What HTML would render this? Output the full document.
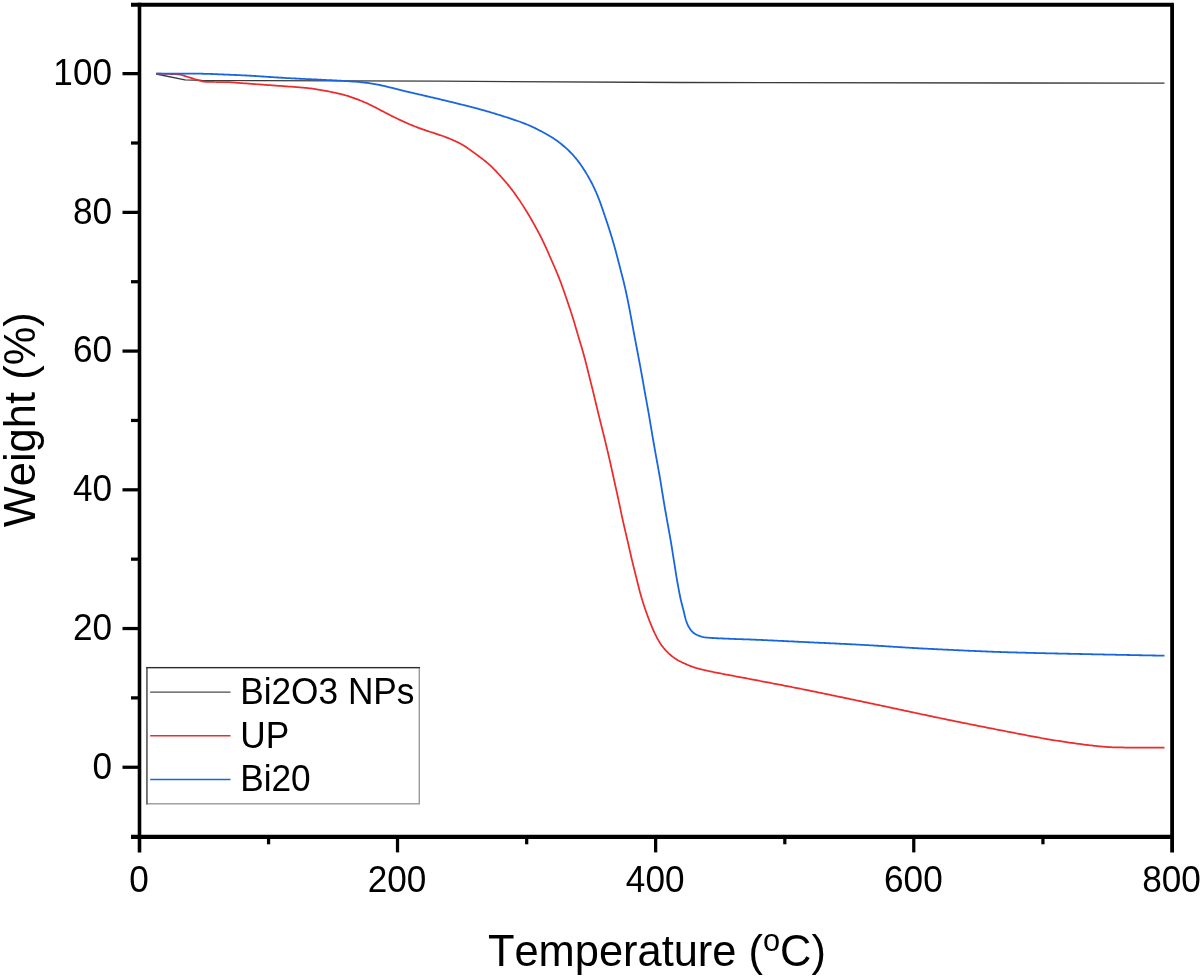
<!DOCTYPE html>
<html><head><meta charset="utf-8"><title>TGA</title>
<style>
html,body{margin:0;padding:0;background:#fff;}
svg{display:block}
text{font-family:"Liberation Sans",Arial,sans-serif;fill:#000;font-kerning:none}
</style></head><body>
<svg width="1203" height="978" viewBox="0 0 1203 978">
<rect width="1203" height="978" fill="#fff"/>
<path d="M156.2,74.0 L184.9,79.9 L202.0,80.4 L440.0,81.2 L680.0,82.5 L1164.5,83.2" fill="none" stroke="#3a3a3a" stroke-width="1.3" stroke-linejoin="round"/>
<path d="M156.20,73.70 L157.70,73.70 L159.20,73.71 L160.70,73.73 L162.20,73.75 L163.70,73.78 L165.20,73.81 L166.70,73.85 L168.20,73.90 L169.70,73.95 L171.20,74.01 L172.69,74.07 L174.19,74.14 L175.69,74.21 L177.19,74.29 L178.68,74.42 L180.16,74.66 L181.63,75.00 L183.07,75.39 L184.50,75.84 L185.93,76.30 L187.35,76.77 L188.78,77.23 L190.22,77.66 L191.65,78.10 L193.08,78.57 L194.50,79.04 L195.93,79.49 L197.37,79.91 L198.81,80.35 L200.24,80.81 L201.68,81.22 L203.14,81.54 L204.63,81.71 L206.13,81.78 L207.63,81.84 L209.13,81.89 L210.63,81.92 L212.13,81.96 L213.63,81.98 L215.13,82.00 L216.63,82.02 L218.13,82.03 L219.63,82.04 L221.13,82.05 L222.63,82.06 L224.13,82.07 L225.63,82.08 L227.13,82.10 L228.63,82.15 L230.12,82.23 L231.62,82.34 L233.12,82.46 L234.61,82.58 L236.11,82.70 L237.60,82.82 L239.10,82.94 L240.59,83.05 L242.09,83.15 L243.58,83.26 L245.08,83.37 L246.58,83.48 L248.07,83.59 L249.57,83.70 L251.06,83.81 L252.56,83.92 L254.06,84.03 L255.55,84.14 L257.05,84.25 L258.54,84.35 L260.04,84.46 L261.54,84.57 L263.03,84.68 L264.53,84.79 L266.02,84.90 L267.52,85.01 L269.02,85.11 L270.51,85.22 L272.01,85.33 L273.50,85.44 L275.00,85.55 L276.50,85.66 L277.99,85.77 L279.49,85.88 L280.99,85.98 L282.48,86.09 L283.98,86.20 L285.47,86.30 L286.97,86.41 L288.47,86.51 L289.96,86.61 L291.46,86.72 L292.96,86.82 L294.45,86.93 L295.95,87.04 L297.44,87.16 L298.94,87.27 L300.43,87.40 L301.93,87.53 L303.42,87.67 L304.91,87.82 L306.40,87.97 L307.89,88.14 L309.38,88.31 L310.87,88.49 L312.36,88.69 L313.84,88.89 L315.33,89.11 L316.81,89.34 L318.29,89.57 L319.77,89.82 L321.25,90.08 L322.72,90.35 L324.20,90.62 L325.67,90.90 L327.14,91.18 L328.61,91.47 L330.09,91.76 L331.56,92.06 L333.03,92.35 L334.49,92.66 L335.96,92.97 L337.42,93.29 L338.89,93.62 L340.34,93.97 L341.80,94.33 L343.25,94.71 L344.69,95.11 L346.13,95.52 L347.57,95.95 L349.00,96.39 L350.43,96.85 L351.85,97.33 L353.26,97.82 L354.68,98.32 L356.09,98.83 L357.49,99.36 L358.89,99.89 L360.28,100.44 L361.67,101.01 L363.05,101.58 L364.43,102.18 L365.80,102.78 L367.17,103.40 L368.52,104.04 L369.87,104.69 L371.22,105.35 L372.56,106.02 L373.89,106.71 L375.23,107.39 L376.56,108.08 L377.88,108.78 L379.21,109.48 L380.54,110.17 L381.87,110.87 L383.20,111.57 L384.53,112.26 L385.86,112.95 L387.19,113.64 L388.53,114.33 L389.86,115.01 L391.20,115.68 L392.54,116.36 L393.89,117.02 L395.23,117.68 L396.58,118.33 L397.93,118.98 L399.29,119.62 L400.65,120.26 L402.01,120.89 L403.37,121.51 L404.74,122.13 L406.11,122.73 L407.49,123.34 L408.86,123.93 L410.24,124.52 L411.63,125.10 L413.01,125.67 L414.40,126.23 L415.80,126.77 L417.20,127.31 L418.60,127.84 L420.01,128.36 L421.42,128.87 L422.83,129.37 L424.25,129.86 L425.67,130.35 L427.09,130.83 L428.51,131.30 L429.94,131.77 L431.36,132.24 L432.79,132.70 L434.21,133.16 L435.64,133.63 L437.07,134.10 L438.49,134.57 L439.91,135.05 L441.33,135.54 L442.74,136.04 L444.15,136.55 L445.56,137.07 L446.96,137.60 L448.35,138.15 L449.74,138.71 L451.13,139.28 L452.50,139.87 L453.87,140.48 L455.24,141.10 L456.59,141.73 L457.94,142.39 L459.27,143.07 L460.59,143.77 L461.90,144.50 L463.19,145.25 L464.46,146.03 L465.72,146.83 L466.97,147.65 L468.20,148.50 L469.43,149.36 L470.65,150.23 L471.86,151.11 L473.07,151.99 L474.28,152.87 L475.49,153.76 L476.70,154.65 L477.91,155.54 L479.11,156.43 L480.31,157.33 L481.50,158.24 L482.69,159.15 L483.87,160.08 L485.04,161.02 L486.19,161.97 L487.34,162.93 L488.47,163.92 L489.59,164.91 L490.69,165.93 L491.77,166.96 L492.85,168.00 L493.90,169.06 L494.95,170.13 L495.99,171.22 L497.02,172.31 L498.04,173.41 L499.05,174.51 L500.06,175.62 L501.07,176.73 L502.07,177.85 L503.07,178.97 L504.06,180.10 L505.04,181.23 L506.01,182.37 L506.98,183.51 L507.94,184.67 L508.88,185.83 L509.82,187.00 L510.74,188.18 L511.66,189.37 L512.56,190.56 L513.45,191.77 L514.34,192.98 L515.21,194.20 L516.08,195.42 L516.94,196.65 L517.79,197.88 L518.64,199.12 L519.48,200.36 L520.31,201.61 L521.14,202.86 L521.96,204.11 L522.78,205.37 L523.59,206.63 L524.40,207.90 L525.20,209.17 L525.99,210.44 L526.78,211.72 L527.56,213.00 L528.33,214.28 L529.10,215.57 L529.86,216.86 L530.62,218.15 L531.37,219.45 L532.11,220.76 L532.85,222.06 L533.59,223.37 L534.31,224.68 L535.04,225.99 L535.76,227.31 L536.47,228.63 L537.18,229.95 L537.89,231.27 L538.59,232.60 L539.29,233.92 L539.99,235.25 L540.67,236.59 L541.35,237.92 L542.02,239.26 L542.68,240.61 L543.34,241.96 L543.98,243.31 L544.62,244.67 L545.25,246.03 L545.87,247.40 L546.48,248.77 L547.09,250.14 L547.70,251.51 L548.30,252.88 L548.91,254.25 L549.51,255.63 L550.11,257.00 L550.71,258.38 L551.31,259.75 L551.91,261.13 L552.51,262.50 L553.11,263.88 L553.71,265.25 L554.31,266.63 L554.90,268.00 L555.50,269.38 L556.09,270.76 L556.67,272.14 L557.25,273.52 L557.82,274.91 L558.39,276.30 L558.95,277.69 L559.50,279.09 L560.04,280.48 L560.57,281.89 L561.10,283.29 L561.62,284.70 L562.13,286.11 L562.63,287.52 L563.13,288.93 L563.63,290.35 L564.12,291.77 L564.61,293.18 L565.09,294.60 L565.58,296.02 L566.07,297.44 L566.55,298.86 L567.04,300.28 L567.52,301.70 L568.00,303.12 L568.49,304.54 L568.97,305.96 L569.45,307.38 L569.93,308.80 L570.40,310.23 L570.87,311.65 L571.34,313.08 L571.80,314.50 L572.25,315.93 L572.70,317.36 L573.15,318.79 L573.59,320.23 L574.02,321.66 L574.45,323.10 L574.88,324.54 L575.30,325.98 L575.72,327.42 L576.14,328.86 L576.56,330.30 L576.98,331.74 L577.40,333.18 L577.82,334.62 L578.25,336.06 L578.68,337.49 L579.11,338.93 L579.54,340.37 L579.97,341.80 L580.40,343.24 L580.84,344.68 L581.27,346.11 L581.70,347.55 L582.12,348.99 L582.54,350.43 L582.96,351.87 L583.36,353.31 L583.77,354.76 L584.16,356.20 L584.55,357.65 L584.94,359.10 L585.32,360.55 L585.69,362.00 L586.06,363.46 L586.43,364.91 L586.79,366.37 L587.15,367.82 L587.51,369.28 L587.88,370.73 L588.24,372.19 L588.60,373.65 L588.96,375.10 L589.32,376.56 L589.69,378.01 L590.05,379.47 L590.42,380.92 L590.78,382.38 L591.14,383.83 L591.51,385.29 L591.87,386.74 L592.23,388.20 L592.59,389.66 L592.95,391.11 L593.31,392.57 L593.67,394.03 L594.02,395.48 L594.38,396.94 L594.73,398.40 L595.08,399.86 L595.43,401.32 L595.77,402.78 L596.12,404.23 L596.47,405.69 L596.82,407.15 L597.17,408.61 L597.52,410.07 L597.87,411.53 L598.22,412.99 L598.58,414.44 L598.94,415.90 L599.29,417.36 L599.65,418.81 L600.02,420.27 L600.38,421.72 L600.74,423.18 L601.11,424.63 L601.47,426.09 L601.83,427.54 L602.20,429.00 L602.56,430.46 L602.92,431.91 L603.28,433.37 L603.64,434.82 L604.00,436.28 L604.36,437.74 L604.72,439.19 L605.07,440.65 L605.43,442.11 L605.78,443.56 L606.14,445.02 L606.49,446.48 L606.84,447.94 L607.19,449.40 L607.53,450.86 L607.88,452.32 L608.22,453.78 L608.56,455.24 L608.89,456.70 L609.23,458.16 L609.56,459.63 L609.89,461.09 L610.22,462.55 L610.55,464.02 L610.88,465.48 L611.20,466.94 L611.53,468.41 L611.85,469.87 L612.17,471.34 L612.50,472.80 L612.82,474.27 L613.15,475.73 L613.47,477.20 L613.80,478.66 L614.12,480.12 L614.45,481.59 L614.77,483.05 L615.10,484.52 L615.42,485.98 L615.75,487.45 L616.07,488.91 L616.40,490.38 L616.72,491.84 L617.04,493.31 L617.36,494.77 L617.68,496.24 L618.00,497.70 L618.32,499.17 L618.63,500.63 L618.94,502.10 L619.26,503.57 L619.56,505.04 L619.87,506.50 L620.18,507.97 L620.49,509.44 L620.79,510.91 L621.10,512.38 L621.41,513.85 L621.72,515.31 L622.04,516.78 L622.35,518.24 L622.68,519.71 L623.00,521.17 L623.33,522.64 L623.66,524.10 L624.00,525.56 L624.34,527.02 L624.68,528.48 L625.02,529.94 L625.36,531.40 L625.71,532.86 L626.05,534.32 L626.40,535.78 L626.74,537.25 L627.08,538.71 L627.42,540.17 L627.75,541.63 L628.09,543.09 L628.42,544.55 L628.75,546.02 L629.08,547.48 L629.41,548.94 L629.74,550.41 L630.07,551.87 L630.41,553.33 L630.74,554.79 L631.08,556.26 L631.42,557.72 L631.76,559.18 L632.11,560.64 L632.46,562.09 L632.81,563.55 L633.17,565.01 L633.53,566.47 L633.89,567.92 L634.25,569.38 L634.61,570.83 L634.98,572.29 L635.34,573.74 L635.71,575.20 L636.07,576.65 L636.43,578.11 L636.80,579.56 L637.16,581.02 L637.52,582.48 L637.88,583.93 L638.24,585.39 L638.61,586.84 L638.98,588.29 L639.35,589.75 L639.73,591.20 L640.12,592.65 L640.51,594.09 L640.92,595.54 L641.33,596.98 L641.75,598.42 L642.19,599.85 L642.63,601.29 L643.08,602.72 L643.53,604.14 L644.00,605.57 L644.47,606.99 L644.95,608.41 L645.44,609.83 L645.93,611.25 L646.43,612.66 L646.93,614.08 L647.44,615.49 L647.96,616.89 L648.49,618.30 L649.02,619.70 L649.56,621.10 L650.11,622.50 L650.67,623.89 L651.23,625.27 L651.81,626.66 L652.40,628.04 L653.00,629.41 L653.61,630.78 L654.24,632.14 L654.87,633.50 L655.53,634.85 L656.20,636.19 L656.88,637.52 L657.59,638.83 L658.32,640.14 L659.08,641.43 L659.86,642.70 L660.68,643.95 L661.52,645.17 L662.40,646.37 L663.32,647.55 L664.27,648.70 L665.25,649.82 L666.26,650.92 L667.30,651.99 L668.36,653.03 L669.46,654.04 L670.58,655.03 L671.72,655.98 L672.90,656.89 L674.10,657.77 L675.32,658.61 L676.58,659.41 L677.86,660.17 L679.16,660.90 L680.48,661.60 L681.81,662.27 L683.16,662.91 L684.52,663.54 L685.89,664.14 L687.27,664.73 L688.65,665.30 L690.04,665.85 L691.44,666.37 L692.85,666.88 L694.27,667.35 L695.70,667.81 L697.13,668.24 L698.57,668.65 L700.02,669.03 L701.47,669.40 L702.92,669.76 L704.38,670.10 L705.85,670.43 L707.31,670.75 L708.78,671.06 L710.24,671.38 L711.71,671.68 L713.18,671.99 L714.65,672.29 L716.12,672.58 L717.59,672.88 L719.06,673.17 L720.53,673.46 L722.01,673.75 L723.48,674.03 L724.95,674.32 L726.43,674.60 L727.90,674.88 L729.37,675.15 L730.85,675.43 L732.32,675.71 L733.80,675.98 L735.27,676.26 L736.74,676.54 L738.22,676.81 L739.69,677.09 L741.17,677.36 L742.64,677.64 L744.12,677.92 L745.59,678.20 L747.06,678.48 L748.54,678.76 L750.01,679.04 L751.48,679.32 L752.96,679.60 L754.43,679.88 L755.90,680.16 L757.38,680.45 L758.85,680.73 L760.32,681.01 L761.80,681.29 L763.27,681.57 L764.74,681.85 L766.22,682.13 L767.69,682.41 L769.17,682.69 L770.64,682.97 L772.11,683.25 L773.59,683.54 L775.06,683.82 L776.53,684.10 L778.01,684.38 L779.48,684.67 L780.95,684.95 L782.42,685.23 L783.90,685.52 L785.37,685.80 L786.84,686.09 L788.31,686.38 L789.79,686.66 L791.26,686.95 L792.73,687.24 L794.20,687.53 L795.67,687.82 L797.14,688.12 L798.62,688.41 L800.09,688.70 L801.56,689.00 L803.03,689.29 L804.50,689.59 L805.97,689.89 L807.44,690.18 L808.91,690.48 L810.38,690.78 L811.85,691.08 L813.32,691.38 L814.79,691.68 L816.26,691.98 L817.73,692.29 L819.20,692.59 L820.66,692.89 L822.13,693.20 L823.60,693.50 L825.07,693.80 L826.54,694.11 L828.01,694.41 L829.48,694.72 L830.95,695.03 L832.41,695.33 L833.88,695.64 L835.35,695.95 L836.82,696.25 L838.29,696.56 L839.76,696.87 L841.22,697.17 L842.69,697.48 L844.16,697.79 L845.63,698.10 L847.10,698.40 L848.56,698.71 L850.03,699.02 L851.50,699.33 L852.97,699.63 L854.44,699.94 L855.90,700.25 L857.37,700.56 L858.84,700.86 L860.31,701.17 L861.78,701.48 L863.24,701.79 L864.71,702.10 L866.18,702.41 L867.65,702.71 L869.12,703.02 L870.58,703.33 L872.05,703.64 L873.52,703.96 L874.99,704.27 L876.45,704.58 L877.92,704.89 L879.39,705.20 L880.85,705.51 L882.32,705.83 L883.79,706.14 L885.26,706.45 L886.72,706.77 L888.19,707.08 L889.66,707.39 L891.12,707.71 L892.59,708.02 L894.06,708.33 L895.52,708.65 L896.99,708.96 L898.46,709.28 L899.92,709.59 L901.39,709.90 L902.86,710.22 L904.32,710.53 L905.79,710.85 L907.26,711.16 L908.72,711.47 L910.19,711.79 L911.66,712.10 L913.13,712.41 L914.59,712.73 L916.06,713.04 L917.53,713.35 L918.99,713.66 L920.46,713.98 L921.93,714.29 L923.40,714.60 L924.86,714.91 L926.33,715.22 L927.80,715.53 L929.27,715.84 L930.73,716.15 L932.20,716.46 L933.67,716.77 L935.14,717.08 L936.61,717.38 L938.07,717.69 L939.54,718.00 L941.01,718.30 L942.48,718.61 L943.95,718.91 L945.42,719.22 L946.89,719.52 L948.35,719.82 L949.82,720.12 L951.29,720.43 L952.76,720.73 L954.23,721.03 L955.70,721.33 L957.17,721.63 L958.64,721.92 L960.11,722.22 L961.58,722.52 L963.05,722.82 L964.52,723.12 L965.99,723.41 L967.46,723.71 L968.93,724.00 L970.40,724.30 L971.88,724.59 L973.35,724.89 L974.82,725.18 L976.29,725.48 L977.76,725.77 L979.23,726.06 L980.70,726.35 L982.17,726.65 L983.64,726.94 L985.12,727.23 L986.59,727.52 L988.06,727.81 L989.53,728.10 L991.00,728.39 L992.48,728.68 L993.95,728.96 L995.42,729.25 L996.89,729.54 L998.36,729.83 L999.84,730.11 L1001.31,730.40 L1002.78,730.68 L1004.25,730.97 L1005.73,731.25 L1007.20,731.54 L1008.67,731.82 L1010.15,732.11 L1011.62,732.39 L1013.09,732.68 L1014.56,732.96 L1016.04,733.25 L1017.51,733.53 L1018.98,733.82 L1020.45,734.10 L1021.93,734.38 L1023.40,734.67 L1024.87,734.95 L1026.35,735.24 L1027.82,735.52 L1029.29,735.80 L1030.77,736.08 L1032.24,736.36 L1033.71,736.64 L1035.19,736.91 L1036.66,737.18 L1038.14,737.46 L1039.61,737.72 L1041.09,737.99 L1042.57,738.26 L1044.04,738.52 L1045.52,738.78 L1047.00,739.03 L1048.48,739.29 L1049.96,739.54 L1051.44,739.78 L1052.92,740.03 L1054.40,740.27 L1055.88,740.51 L1057.36,740.75 L1058.84,740.98 L1060.32,741.21 L1061.80,741.44 L1063.29,741.67 L1064.77,741.89 L1066.25,742.12 L1067.74,742.33 L1069.22,742.55 L1070.71,742.76 L1072.19,742.98 L1073.68,743.18 L1075.16,743.39 L1076.65,743.59 L1078.13,743.79 L1079.62,743.99 L1081.11,744.19 L1082.60,744.38 L1084.08,744.57 L1085.57,744.76 L1087.06,744.94 L1088.55,745.12 L1090.04,745.30 L1091.53,745.47 L1093.02,745.64 L1094.51,745.81 L1096.00,745.97 L1097.49,746.13 L1098.98,746.28 L1100.48,746.43 L1101.97,746.57 L1103.46,746.71 L1104.96,746.84 L1106.45,746.96 L1107.95,747.07 L1109.44,747.16 L1110.94,747.24 L1112.44,747.31 L1113.93,747.37 L1115.43,747.41 L1116.93,747.44 L1118.43,747.46 L1119.93,747.48 L1121.43,747.49 L1122.93,747.49 L1124.43,747.50 L1125.93,747.50 L1127.43,747.50 L1128.93,747.50 L1130.43,747.50 L1131.93,747.50 L1133.43,747.50 L1134.93,747.50 L1136.43,747.50 L1137.93,747.50 L1139.43,747.50 L1140.93,747.50 L1142.43,747.50 L1143.93,747.50 L1145.43,747.50 L1146.93,747.50 L1148.43,747.50 L1149.93,747.50 L1151.43,747.50 L1152.93,747.50 L1154.43,747.50 L1155.93,747.50 L1157.43,747.50 L1158.93,747.50 L1160.43,747.50 L1161.93,747.50 L1163.43,747.50 L1164.50,747.50" fill="none" stroke="#ee2b2b" stroke-width="1.75" stroke-linejoin="round"/>
<path d="M156.20,73.60 L157.70,73.60 L159.20,73.60 L160.70,73.60 L162.20,73.60 L163.70,73.60 L165.20,73.60 L166.70,73.60 L168.20,73.60 L169.70,73.60 L171.20,73.60 L172.70,73.60 L174.20,73.60 L175.70,73.60 L177.20,73.60 L178.70,73.60 L180.20,73.60 L181.70,73.60 L183.20,73.60 L184.70,73.60 L186.20,73.60 L187.70,73.60 L189.20,73.60 L190.70,73.60 L192.20,73.60 L193.70,73.61 L195.20,73.62 L196.70,73.64 L198.20,73.66 L199.70,73.69 L201.20,73.72 L202.70,73.75 L204.20,73.79 L205.70,73.83 L207.20,73.87 L208.70,73.91 L210.20,73.96 L211.69,74.01 L213.19,74.07 L214.69,74.12 L216.19,74.18 L217.69,74.24 L219.19,74.30 L220.69,74.36 L222.19,74.43 L223.69,74.49 L225.18,74.56 L226.68,74.62 L228.18,74.69 L229.68,74.76 L231.18,74.82 L232.68,74.89 L234.18,74.96 L235.67,75.02 L237.17,75.09 L238.67,75.15 L240.17,75.22 L241.67,75.28 L243.17,75.35 L244.66,75.42 L246.16,75.50 L247.66,75.58 L249.16,75.66 L250.66,75.74 L252.15,75.83 L253.65,75.92 L255.15,76.01 L256.65,76.10 L258.14,76.20 L259.64,76.29 L261.14,76.39 L262.63,76.49 L264.13,76.58 L265.63,76.68 L267.12,76.78 L268.62,76.88 L270.12,76.98 L271.61,77.08 L273.11,77.18 L274.61,77.28 L276.10,77.38 L277.60,77.48 L279.10,77.57 L280.59,77.67 L282.09,77.76 L283.59,77.85 L285.09,77.94 L286.58,78.03 L288.08,78.12 L289.58,78.20 L291.08,78.28 L292.57,78.36 L294.07,78.44 L295.57,78.51 L297.07,78.59 L298.57,78.67 L300.06,78.74 L301.56,78.81 L303.06,78.88 L304.56,78.96 L306.06,79.03 L307.56,79.10 L309.05,79.17 L310.55,79.24 L312.05,79.31 L313.55,79.38 L315.05,79.45 L316.55,79.52 L318.04,79.59 L319.54,79.66 L321.04,79.74 L322.54,79.81 L324.04,79.89 L325.54,79.96 L327.03,80.04 L328.53,80.11 L330.03,80.19 L331.53,80.27 L333.03,80.35 L334.52,80.43 L336.02,80.51 L337.52,80.60 L339.02,80.68 L340.51,80.76 L342.01,80.85 L343.51,80.94 L345.01,81.03 L346.50,81.12 L348.00,81.21 L349.50,81.30 L350.99,81.40 L352.49,81.50 L353.99,81.61 L355.48,81.72 L356.98,81.84 L358.47,81.96 L359.96,82.10 L361.46,82.24 L362.95,82.40 L364.44,82.57 L365.92,82.75 L367.41,82.94 L368.89,83.15 L370.38,83.37 L371.86,83.60 L373.34,83.85 L374.81,84.11 L376.29,84.38 L377.76,84.66 L379.23,84.95 L380.70,85.25 L382.16,85.57 L383.63,85.89 L385.09,86.22 L386.55,86.56 L388.01,86.90 L389.47,87.26 L390.92,87.61 L392.38,87.98 L393.83,88.34 L395.29,88.71 L396.74,89.08 L398.19,89.45 L399.65,89.82 L401.10,90.18 L402.56,90.54 L404.02,90.90 L405.47,91.26 L406.93,91.61 L408.39,91.96 L409.85,92.30 L411.31,92.64 L412.77,92.98 L414.23,93.32 L415.69,93.66 L417.16,93.99 L418.62,94.32 L420.08,94.66 L421.54,94.99 L423.01,95.33 L424.47,95.66 L425.93,96.00 L427.39,96.34 L428.85,96.67 L430.31,97.01 L431.77,97.36 L433.23,97.70 L434.69,98.04 L436.15,98.39 L437.61,98.73 L439.07,99.08 L440.53,99.43 L441.99,99.78 L443.45,100.13 L444.91,100.48 L446.37,100.83 L447.82,101.18 L449.28,101.53 L450.74,101.89 L452.20,102.24 L453.65,102.60 L455.11,102.96 L456.57,103.31 L458.02,103.67 L459.48,104.03 L460.94,104.39 L462.39,104.75 L463.85,105.11 L465.30,105.47 L466.76,105.84 L468.21,106.21 L469.67,106.58 L471.12,106.95 L472.57,107.32 L474.02,107.70 L475.47,108.09 L476.92,108.47 L478.37,108.86 L479.82,109.26 L481.26,109.66 L482.71,110.06 L484.15,110.47 L485.60,110.88 L487.04,111.29 L488.48,111.71 L489.92,112.13 L491.35,112.56 L492.79,112.99 L494.23,113.42 L495.66,113.86 L497.10,114.30 L498.53,114.74 L499.96,115.19 L501.39,115.64 L502.82,116.09 L504.25,116.54 L505.68,117.00 L507.11,117.46 L508.54,117.92 L509.96,118.38 L511.39,118.85 L512.81,119.32 L514.23,119.80 L515.65,120.28 L517.07,120.76 L518.49,121.26 L519.90,121.76 L521.31,122.28 L522.71,122.80 L524.11,123.34 L525.50,123.89 L526.89,124.46 L528.27,125.04 L529.65,125.63 L531.01,126.24 L532.38,126.87 L533.73,127.50 L535.08,128.16 L536.42,128.82 L537.76,129.49 L539.10,130.18 L540.43,130.87 L541.76,131.56 L543.08,132.27 L544.40,132.98 L545.71,133.70 L547.02,134.43 L548.32,135.18 L549.61,135.93 L550.89,136.70 L552.17,137.49 L553.42,138.30 L554.67,139.13 L555.90,139.97 L557.12,140.84 L558.32,141.73 L559.51,142.64 L560.68,143.57 L561.84,144.51 L562.99,145.47 L564.13,146.44 L565.25,147.43 L566.37,148.43 L567.47,149.44 L568.56,150.47 L569.63,151.51 L570.69,152.57 L571.72,153.65 L572.75,154.74 L573.75,155.85 L574.73,156.97 L575.69,158.12 L576.64,159.28 L577.56,160.45 L578.47,161.64 L579.36,162.84 L580.23,164.06 L581.09,165.29 L581.94,166.52 L582.77,167.77 L583.59,169.02 L584.40,170.29 L585.19,171.56 L585.98,172.83 L586.76,174.11 L587.52,175.40 L588.27,176.70 L589.02,178.00 L589.74,179.31 L590.46,180.63 L591.17,181.95 L591.86,183.28 L592.54,184.61 L593.20,185.96 L593.85,187.31 L594.49,188.66 L595.12,190.02 L595.73,191.39 L596.33,192.76 L596.92,194.14 L597.49,195.52 L598.06,196.91 L598.61,198.31 L599.14,199.71 L599.67,201.11 L600.19,202.52 L600.70,203.93 L601.21,205.34 L601.71,206.75 L602.20,208.17 L602.69,209.58 L603.18,211.00 L603.67,212.42 L604.15,213.84 L604.63,215.26 L605.11,216.68 L605.59,218.11 L606.06,219.53 L606.54,220.95 L607.01,222.38 L607.48,223.80 L607.94,225.23 L608.41,226.65 L608.87,228.08 L609.33,229.51 L609.79,230.94 L610.24,232.37 L610.68,233.80 L611.13,235.23 L611.57,236.66 L612.00,238.10 L612.43,239.54 L612.85,240.98 L613.27,242.42 L613.69,243.86 L614.10,245.30 L614.51,246.74 L614.91,248.19 L615.31,249.63 L615.71,251.08 L616.10,252.53 L616.48,253.98 L616.87,255.43 L617.25,256.88 L617.63,258.33 L618.01,259.78 L618.38,261.23 L618.76,262.69 L619.13,264.14 L619.50,265.59 L619.87,267.04 L620.25,268.50 L620.62,269.95 L621.00,271.40 L621.37,272.85 L621.75,274.31 L622.12,275.76 L622.50,277.21 L622.87,278.66 L623.23,280.12 L623.59,281.57 L623.95,283.03 L624.30,284.49 L624.65,285.95 L624.99,287.41 L625.32,288.87 L625.65,290.33 L625.97,291.80 L626.29,293.26 L626.61,294.73 L626.92,296.20 L627.22,297.67 L627.52,299.14 L627.82,300.61 L628.12,302.08 L628.41,303.55 L628.70,305.02 L628.99,306.49 L629.28,307.96 L629.56,309.44 L629.84,310.91 L630.11,312.38 L630.39,313.86 L630.66,315.33 L630.94,316.81 L631.21,318.28 L631.48,319.76 L631.75,321.23 L632.02,322.71 L632.29,324.19 L632.56,325.66 L632.83,327.14 L633.10,328.61 L633.38,330.09 L633.65,331.56 L633.93,333.03 L634.21,334.51 L634.49,335.98 L634.76,337.46 L635.04,338.93 L635.32,340.40 L635.60,341.88 L635.88,343.35 L636.16,344.82 L636.44,346.30 L636.72,347.77 L637.00,349.25 L637.28,350.72 L637.56,352.19 L637.84,353.67 L638.12,355.14 L638.40,356.61 L638.68,358.09 L638.95,359.56 L639.23,361.04 L639.51,362.51 L639.78,363.99 L640.05,365.46 L640.33,366.94 L640.60,368.41 L640.87,369.89 L641.14,371.36 L641.41,372.84 L641.67,374.31 L641.94,375.79 L642.20,377.27 L642.47,378.74 L642.73,380.22 L642.99,381.70 L643.25,383.18 L643.51,384.65 L643.77,386.13 L644.03,387.61 L644.29,389.08 L644.55,390.56 L644.81,392.04 L645.08,393.51 L645.34,394.99 L645.61,396.47 L645.88,397.94 L646.15,399.42 L646.42,400.89 L646.69,402.37 L646.96,403.84 L647.24,405.32 L647.50,406.79 L647.77,408.27 L648.04,409.75 L648.30,411.22 L648.56,412.70 L648.82,414.18 L649.07,415.66 L649.32,417.13 L649.57,418.61 L649.82,420.09 L650.07,421.57 L650.31,423.05 L650.55,424.53 L650.80,426.01 L651.04,427.49 L651.29,428.97 L651.53,430.45 L651.78,431.93 L652.03,433.41 L652.28,434.89 L652.54,436.37 L652.79,437.85 L653.05,439.32 L653.30,440.80 L653.56,442.28 L653.82,443.76 L654.08,445.23 L654.34,446.71 L654.61,448.19 L654.87,449.66 L655.14,451.14 L655.40,452.62 L655.67,454.09 L655.93,455.57 L656.20,457.05 L656.47,458.52 L656.74,460.00 L657.01,461.47 L657.28,462.95 L657.54,464.42 L657.81,465.90 L658.08,467.38 L658.35,468.85 L658.61,470.33 L658.87,471.80 L659.14,473.28 L659.39,474.76 L659.65,476.24 L659.90,477.72 L660.15,479.20 L660.40,480.67 L660.64,482.15 L660.89,483.63 L661.13,485.12 L661.36,486.60 L661.60,488.08 L661.84,489.56 L662.08,491.04 L662.31,492.52 L662.55,494.00 L662.79,495.48 L663.03,496.96 L663.27,498.44 L663.51,499.92 L663.76,501.40 L664.01,502.88 L664.26,504.36 L664.51,505.84 L664.76,507.32 L665.02,508.80 L665.28,510.27 L665.54,511.75 L665.80,513.23 L666.06,514.71 L666.32,516.18 L666.59,517.66 L666.85,519.14 L667.12,520.61 L667.38,522.09 L667.65,523.56 L667.91,525.04 L668.18,526.52 L668.45,527.99 L668.72,529.47 L668.99,530.94 L669.25,532.42 L669.52,533.90 L669.78,535.37 L670.04,536.85 L670.30,538.33 L670.55,539.81 L670.80,541.29 L671.05,542.76 L671.30,544.24 L671.54,545.73 L671.78,547.21 L672.02,548.69 L672.25,550.17 L672.49,551.65 L672.72,553.13 L672.96,554.61 L673.19,556.09 L673.43,557.58 L673.66,559.06 L673.90,560.54 L674.14,562.02 L674.37,563.50 L674.60,564.98 L674.83,566.46 L675.06,567.95 L675.30,569.43 L675.53,570.91 L675.76,572.39 L676.00,573.87 L676.24,575.35 L676.48,576.83 L676.73,578.31 L676.99,579.79 L677.24,581.27 L677.50,582.75 L677.77,584.22 L678.03,585.70 L678.30,587.18 L678.57,588.65 L678.84,590.13 L679.12,591.60 L679.40,593.07 L679.69,594.54 L679.99,596.02 L680.30,597.48 L680.61,598.95 L680.94,600.41 L681.29,601.87 L681.65,603.33 L682.03,604.78 L682.41,606.23 L682.80,607.68 L683.18,609.13 L683.55,610.59 L683.89,612.04 L684.23,613.50 L684.57,614.97 L684.92,616.43 L685.29,617.88 L685.69,619.33 L686.15,620.75 L686.65,622.17 L687.18,623.57 L687.76,624.95 L688.40,626.31 L689.15,627.61 L689.97,628.86 L690.85,630.08 L691.81,631.23 L692.88,632.28 L694.06,633.21 L695.31,634.03 L696.62,634.76 L697.98,635.40 L699.38,635.94 L700.80,636.43 L702.24,636.85 L703.70,637.16 L705.19,637.35 L706.68,637.52 L708.17,637.66 L709.67,637.78 L711.17,637.89 L712.66,637.98 L714.16,638.07 L715.66,638.15 L717.15,638.24 L718.65,638.31 L720.15,638.39 L721.65,638.45 L723.15,638.52 L724.65,638.58 L726.15,638.64 L727.64,638.69 L729.14,638.75 L730.64,638.81 L732.14,638.86 L733.64,638.92 L735.14,638.98 L736.64,639.03 L738.14,639.08 L739.64,639.14 L741.14,639.19 L742.63,639.24 L744.13,639.29 L745.63,639.34 L747.13,639.40 L748.63,639.45 L750.13,639.51 L751.63,639.57 L753.13,639.63 L754.63,639.70 L756.12,639.76 L757.62,639.82 L759.12,639.89 L760.62,639.95 L762.12,640.02 L763.62,640.09 L765.12,640.15 L766.61,640.22 L768.11,640.29 L769.61,640.36 L771.11,640.43 L772.61,640.50 L774.11,640.57 L775.60,640.64 L777.10,640.72 L778.60,640.79 L780.10,640.86 L781.60,640.93 L783.10,641.01 L784.59,641.08 L786.09,641.15 L787.59,641.23 L789.09,641.30 L790.59,641.37 L792.09,641.45 L793.58,641.52 L795.08,641.60 L796.58,641.67 L798.08,641.74 L799.58,641.82 L801.07,641.89 L802.57,641.96 L804.07,642.03 L805.57,642.11 L807.07,642.18 L808.57,642.25 L810.06,642.32 L811.56,642.39 L813.06,642.46 L814.56,642.53 L816.06,642.60 L817.56,642.67 L819.05,642.74 L820.55,642.81 L822.05,642.88 L823.55,642.95 L825.05,643.02 L826.55,643.09 L828.04,643.16 L829.54,643.23 L831.04,643.30 L832.54,643.37 L834.04,643.44 L835.54,643.51 L837.03,643.58 L838.53,643.65 L840.03,643.73 L841.53,643.80 L843.03,643.87 L844.53,643.94 L846.02,644.01 L847.52,644.09 L849.02,644.16 L850.52,644.24 L852.02,644.31 L853.51,644.39 L855.01,644.47 L856.51,644.54 L858.01,644.62 L859.51,644.70 L861.00,644.78 L862.50,644.86 L864.00,644.95 L865.50,645.03 L867.00,645.12 L868.49,645.20 L869.99,645.29 L871.49,645.38 L872.98,645.47 L874.48,645.56 L875.98,645.65 L877.48,645.74 L878.97,645.84 L880.47,645.93 L881.97,646.02 L883.46,646.12 L884.96,646.21 L886.46,646.31 L887.96,646.40 L889.45,646.50 L890.95,646.59 L892.45,646.69 L893.94,646.78 L895.44,646.88 L896.94,646.97 L898.43,647.07 L899.93,647.16 L901.43,647.25 L902.93,647.35 L904.42,647.44 L905.92,647.53 L907.42,647.62 L908.91,647.71 L910.41,647.80 L911.91,647.89 L913.41,647.98 L914.90,648.06 L916.40,648.15 L917.90,648.23 L919.40,648.32 L920.90,648.40 L922.39,648.48 L923.89,648.55 L925.39,648.63 L926.89,648.71 L928.39,648.78 L929.88,648.86 L931.38,648.93 L932.88,649.01 L934.38,649.08 L935.88,649.16 L937.37,649.23 L938.87,649.31 L940.37,649.38 L941.87,649.46 L943.37,649.53 L944.86,649.61 L946.36,649.68 L947.86,649.75 L949.36,649.83 L950.86,649.90 L952.36,649.97 L953.85,650.04 L955.35,650.11 L956.85,650.18 L958.35,650.26 L959.85,650.33 L961.35,650.40 L962.84,650.46 L964.34,650.53 L965.84,650.60 L967.34,650.67 L968.84,650.74 L970.34,650.80 L971.84,650.87 L973.33,650.94 L974.83,651.00 L976.33,651.06 L977.83,651.13 L979.33,651.19 L980.83,651.25 L982.33,651.32 L983.82,651.38 L985.32,651.44 L986.82,651.50 L988.32,651.56 L989.82,651.61 L991.32,651.67 L992.82,651.73 L994.32,651.78 L995.82,651.84 L997.31,651.89 L998.81,651.94 L1000.31,652.00 L1001.81,652.05 L1003.31,652.10 L1004.81,652.15 L1006.31,652.20 L1007.81,652.24 L1009.31,652.29 L1010.81,652.34 L1012.31,652.38 L1013.81,652.43 L1015.31,652.47 L1016.80,652.51 L1018.30,652.56 L1019.80,652.60 L1021.30,652.64 L1022.80,652.68 L1024.30,652.72 L1025.80,652.76 L1027.30,652.80 L1028.80,652.84 L1030.30,652.88 L1031.80,652.92 L1033.30,652.96 L1034.80,652.99 L1036.30,653.03 L1037.80,653.07 L1039.30,653.10 L1040.80,653.14 L1042.30,653.17 L1043.80,653.21 L1045.30,653.24 L1046.79,653.28 L1048.29,653.31 L1049.79,653.35 L1051.29,653.38 L1052.79,653.41 L1054.29,653.45 L1055.79,653.48 L1057.29,653.51 L1058.79,653.55 L1060.29,653.58 L1061.79,653.61 L1063.29,653.64 L1064.79,653.67 L1066.29,653.71 L1067.79,653.74 L1069.29,653.77 L1070.79,653.80 L1072.29,653.83 L1073.79,653.86 L1075.29,653.90 L1076.79,653.93 L1078.29,653.96 L1079.79,653.99 L1081.29,654.02 L1082.79,654.05 L1084.29,654.08 L1085.79,654.12 L1087.29,654.15 L1088.79,654.18 L1090.28,654.21 L1091.78,654.24 L1093.28,654.28 L1094.78,654.31 L1096.28,654.34 L1097.78,654.37 L1099.28,654.40 L1100.78,654.44 L1102.28,654.47 L1103.78,654.50 L1105.28,654.53 L1106.78,654.56 L1108.28,654.60 L1109.78,654.63 L1111.28,654.66 L1112.78,654.69 L1114.28,654.72 L1115.78,654.75 L1117.28,654.78 L1118.78,654.81 L1120.28,654.84 L1121.78,654.87 L1123.28,654.90 L1124.78,654.93 L1126.28,654.96 L1127.78,654.99 L1129.28,655.02 L1130.78,655.05 L1132.28,655.08 L1133.78,655.11 L1135.28,655.14 L1136.77,655.17 L1138.27,655.20 L1139.77,655.23 L1141.27,655.26 L1142.77,655.29 L1144.27,655.32 L1145.77,655.35 L1147.27,655.38 L1148.77,655.41 L1150.27,655.43 L1151.77,655.46 L1153.27,655.49 L1154.77,655.52 L1156.27,655.55 L1157.77,655.58 L1159.27,655.60 L1160.77,655.63 L1162.27,655.66 L1163.77,655.69 L1164.50,655.70" fill="none" stroke="#1766e0" stroke-width="1.8" stroke-linejoin="round"/>
<g stroke="#000" fill="none" stroke-linecap="butt">
<path d="M131,4.75 H1173.9" stroke-width="4.2"/>
<path d="M131,836.85 H1172.0" stroke-width="4.2"/>
<path d="M139.5,2.65 V852.4" stroke-width="3.6"/>
<path d="M1172.1,4.75 V852.4" stroke-width="3.8"/>
</g>
<g stroke="#000" stroke-width="3.25" fill="none">
<path d="M122.5,767.25 H139.5"/><path d="M122.5,628.53 H139.5"/><path d="M122.5,489.81 H139.5"/><path d="M122.5,351.09 H139.5"/><path d="M122.5,212.37 H139.5"/><path d="M122.5,73.65 H139.5"/><path d="M131,697.89 H139.5"/><path d="M131,559.17 H139.5"/><path d="M131,420.45 H139.5"/><path d="M131,281.73 H139.5"/><path d="M131,143.01 H139.5"/><path d="M397.52,836.65 V852.4"/><path d="M655.65,836.65 V852.4"/><path d="M913.77,836.65 V852.4"/><path d="M268.56,836.65 V844.3"/><path d="M526.69,836.65 V844.3"/><path d="M784.81,836.65 V844.3"/><path d="M1042.94,836.65 V844.3"/></g>
<g font-size="37.6" text-anchor="end">
<text transform="translate(112.0,778.5) scale(0.935,1)">0</text><text transform="translate(112.0,639.7) scale(0.935,1)">20</text><text transform="translate(112.0,501.0) scale(0.935,1)">40</text><text transform="translate(112.0,362.3) scale(0.935,1)">60</text><text transform="translate(112.0,223.6) scale(0.935,1)">80</text><text transform="translate(112.0,84.8) scale(0.935,1)">100</text></g>
<g font-size="37.8" text-anchor="middle">
<text transform="translate(139.0,891.8) scale(0.93,1)">0</text><text transform="translate(397.1,891.8) scale(0.93,1)">200</text><text transform="translate(655.2,891.8) scale(0.93,1)">400</text><text transform="translate(913.4,891.8) scale(0.93,1)">600</text><text transform="translate(1171.5,891.8) scale(0.93,1)">800</text></g>
<text transform="translate(656.9,966.3) scale(0.9915,1)" font-size="43.8" text-anchor="middle">Temperature (<tspan font-size="31" dy="-15.5">o</tspan><tspan dy="15.5">C)</tspan></text>
<text transform="translate(35.3,419.75) rotate(-90) scale(0.9665,1)" font-size="45" text-anchor="middle">Weight (%)</text>
<rect x="146.9" y="667.6" width="272.4" height="136.2" fill="#fff" stroke="#9a9a9a" stroke-width="1.4"/>
<path d="M146.9,668 V804.4" stroke="#5a5a5a" stroke-width="1.4" fill="none"/>
<path d="M146.2,667.6 H420" stroke="#2e2e2e" stroke-width="1.4" fill="none"/>
<path d="M150.2,692.1 H230.5" stroke="#4a4a4a" stroke-width="1.3"/><text transform="translate(240.2,703.9) scale(0.945,1)" font-size="37.3">Bi2O3 NPs</text>
<path d="M150.2,735.8 H230.5" stroke="#ee2b2b" stroke-width="1.6"/><text transform="translate(240.2,747.6) scale(0.945,1)" font-size="37.3">UP</text>
<path d="M150.2,779.5 H230.5" stroke="#1766e0" stroke-width="1.6"/><text transform="translate(240.2,791.3) scale(0.945,1)" font-size="37.3">Bi20</text>
</svg>
</body></html>
